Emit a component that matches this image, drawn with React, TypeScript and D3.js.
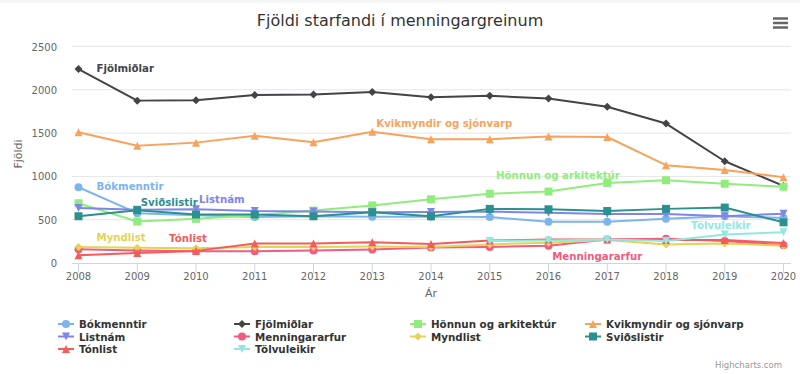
import React from 'react';
import * as d3 from 'd3';

// Values
const years = [2008, 2009, 2010, 2011, 2012, 2013, 2014, 2015, 2016, 2017, 2018, 2019, 2020];
const yTicks = [0, 500, 1000, 1500, 2000, 2500];

const bokmenntir = [875, 575, 550, 530, 540, 535, 535, 530, 475, 475, 510, 540, 520];
const fjolmidlar = [2240, 1875, 1880, 1940, 1945, 1975, 1915, 1930, 1900, 1805, 1610, 1175, 890];
const honnun = [690, 480, 510, 550, 605, 665, 735, 800, 825, 925, 955, 915, 880];
const kvikmyndir = [1510, 1355, 1390, 1470, 1395, 1515, 1430, 1430, 1460, 1455, 1130, 1075, 990];
const listnam = [635, 615, 620, 600, 595, 585, 590, 595, 580, 565, 565, 540, 570];
const menningararfur = [160, 145, 135, 135, 145, 155, 180, 185, 200, 270, 280, 255, 205];
const myndlist = [185, 175, 170, 185, 185, 190, 185, 215, 235, 265, 215, 225, 200];
const svidslistir = [540, 610, 560, 560, 540, 585, 540, 625, 620, 600, 625, 640, 470];
const tonlist = [90, 115, 140, 225, 225, 240, 220, 260, 270, 270, 265, 265, 230];
const tolvuleikir = [null, null, null, null, null, null, null, 255, 260, 270, 255, 330, 355];

type Sym = 'circle' | 'diamond' | 'square' | 'triangle' | 'triangle-down';

const series: { name: string; values: (number | null)[]; color: string; symbol: Sym }[] = [
  { name: 'Bókmenntir', values: bokmenntir, color: '#7cb5ec', symbol: 'circle' },
  { name: 'Fjölmiðlar', values: fjolmidlar, color: '#434348', symbol: 'diamond' },
  { name: 'Hönnun og arkitektúr', values: honnun, color: '#90ed7d', symbol: 'square' },
  { name: 'Kvikmyndir og sjónvarp', values: kvikmyndir, color: '#f7a35c', symbol: 'triangle' },
  { name: 'Listnám', values: listnam, color: '#8085e9', symbol: 'triangle-down' },
  { name: 'Menningararfur', values: menningararfur, color: '#f15c80', symbol: 'circle' },
  { name: 'Myndlist', values: myndlist, color: '#e4d354', symbol: 'diamond' },
  { name: 'Sviðslistir', values: svidslistir, color: '#2b908f', symbol: 'square' },
  { name: 'Tónlist', values: tonlist, color: '#f45b5b', symbol: 'triangle' },
  { name: 'Tölvuleikir', values: tolvuleikir, color: '#91e8e1', symbol: 'triangle-down' },
];

// where each series name label sits: point index, offset, anchor
const labelPlacement: Record<string, [number, number, number, string]> = {
  'Fjölmiðlar': [0, 18, 3, 'start'],
  'Bókmenntir': [0, 18, 3, 'start'],
  'Myndlist': [0, 18, -6, 'start'],
  'Sviðslistir': [1, 3.5, -4, 'start'],
  'Listnám': [2, 3, -6, 'start'],
  'Tónlist': [2, -8, -9, 'middle'],
  'Kvikmyndir og sjónvarp': [5, 4, -4.5, 'start'],
  'Hönnun og arkitektúr': [8, 9.5, -13, 'middle'],
  'Menningararfur': [9, -10, 20, 'middle'],
  'Tölvuleikir': [11, -4, -5, 'middle'],
};

const W = 800;
const H = 374;
const font = '"DejaVu Sans", sans-serif';

const x = d3.scaleLinear().domain([2008, 2020]).range([78.5, 783.5]);
const y = d3.scaleLinear().domain([0, 2500]).range([263, 46.5]);

function marker(sym: Sym, cx: number, cy: number, r = 4) {
  const p = d3.path();
  if (sym === 'circle') {
    p.arc(cx, cy, r, 0, Math.PI * 2);
  } else if (sym === 'square') {
    p.rect(cx - r, cy - r, 2 * r, 2 * r);
  } else if (sym === 'diamond') {
    p.moveTo(cx, cy - r); p.lineTo(cx + r, cy); p.lineTo(cx, cy + r); p.lineTo(cx - r, cy); p.closePath();
  } else if (sym === 'triangle') {
    p.moveTo(cx, cy - r); p.lineTo(cx + r, cy + r); p.lineTo(cx - r, cy + r); p.closePath();
  } else {
    p.moveTo(cx - r, cy - r); p.lineTo(cx + r, cy - r); p.lineTo(cx, cy + r); p.closePath();
  }
  return p.toString();
}

const line = d3.line<[number, number | null]>()
  .defined(d => d[1] !== null)
  .x(d => x(d[0]))
  .y(d => y(d[1] as number));

export default function App() {
  const legendCols = [58, 234, 410, 585];
  const legendRows = [324, 336.5, 349];

  return (
    <div style={{ position: 'absolute', left: 0, top: 0 }}>
      <svg width={W} height={H} style={{ display: 'block', fontFamily: font }}>
        <rect x={0} y={0} width={W} height={H} fill="#ffffff" />
        <rect x={0} y={0} width={W} height={2.5} fill="#f4f6f8" />

        {/* title */}
        <text x={400} y={26} textAnchor="middle" fontSize={16} fill="#333333">
          Fjöldi starfandi í menningargreinum
        </text>

        {/* menu icon */}
        {[18.5, 23, 27.5].map(yy => (
          <line key={yy} x1={773} x2={788} y1={yy} y2={yy} stroke="#666666" strokeWidth={2.5} />
        ))}

        {/* grid */}
        {yTicks.map(t => (
          <g key={t}>
            {t > 0 && <line x1={72} x2={791} y1={y(t)} y2={y(t)} stroke="#e6e6e6" strokeWidth={1} />}
            <text x={57} y={y(t) + 4} textAnchor="end" fontSize={10} fill="#666666">{t}</text>
          </g>
        ))}
        <line x1={72} x2={791} y1={263.5} y2={263.5} stroke="#ccd6eb" strokeWidth={1} />
        {years.map(yr => (
          <g key={yr}>
            <line x1={x(yr)} x2={x(yr)} y1={263.5} y2={273} stroke="#ccd6eb" strokeWidth={1} />
            <text x={x(yr)} y={280} textAnchor="middle" fontSize={10} fill="#666666">{yr}</text>
          </g>
        ))}

        {/* axis titles */}
        <text transform="translate(22,154) rotate(-90)" textAnchor="middle" fontSize={11} fill="#666666">Fjöldi</text>
        <text x={431} y={297} textAnchor="middle" fontSize={11} fill="#666666">Ár</text>

        {/* series */}
        {series.map(s => {
          const pts = years.map((yr, i) => [yr, s.values[i]] as [number, number | null]);
          return (
            <g key={s.name}>
              <path d={line(pts) || ''} fill="none" stroke={s.color} strokeWidth={2} strokeLinejoin="round" strokeLinecap="round" />
              {pts.filter(p => p[1] !== null).map(p => (
                <path key={p[0]} d={marker(s.symbol, x(p[0]), y(p[1] as number))} fill={s.color} />
              ))}
            </g>
          );
        })}

        {/* series name labels */}
        {series.map(s => {
          const [idx, dx, dy, anchor] = labelPlacement[s.name];
          const v = s.values[idx] as number;
          return (
            <text key={s.name} x={x(years[idx]) + dx} y={y(v) + dy} textAnchor={anchor}
              fontSize={10.2} fontWeight="bold" fill={s.color}>
              {s.name}
            </text>
          );
        })}

        {/* legend */}
        {series.map((s, i) => {
          const lx = legendCols[i % 4];
          const ly = legendRows[Math.floor(i / 4)];
          return (
            <g key={s.name}>
              <line x1={lx} x2={lx + 16} y1={ly} y2={ly} stroke={s.color} strokeWidth={2} />
              <path d={marker(s.symbol, lx + 8, ly)} fill={s.color} />
              <text x={lx + 21} y={ly + 4} fontSize={10.3} fontWeight="bold" fill="#333333">{s.name}</text>
            </g>
          );
        })}

        <text x={782} y={368} textAnchor="end" fontSize={8.5} fill="#999999">Highcharts.com</text>
      </svg>
    </div>
  );
}
